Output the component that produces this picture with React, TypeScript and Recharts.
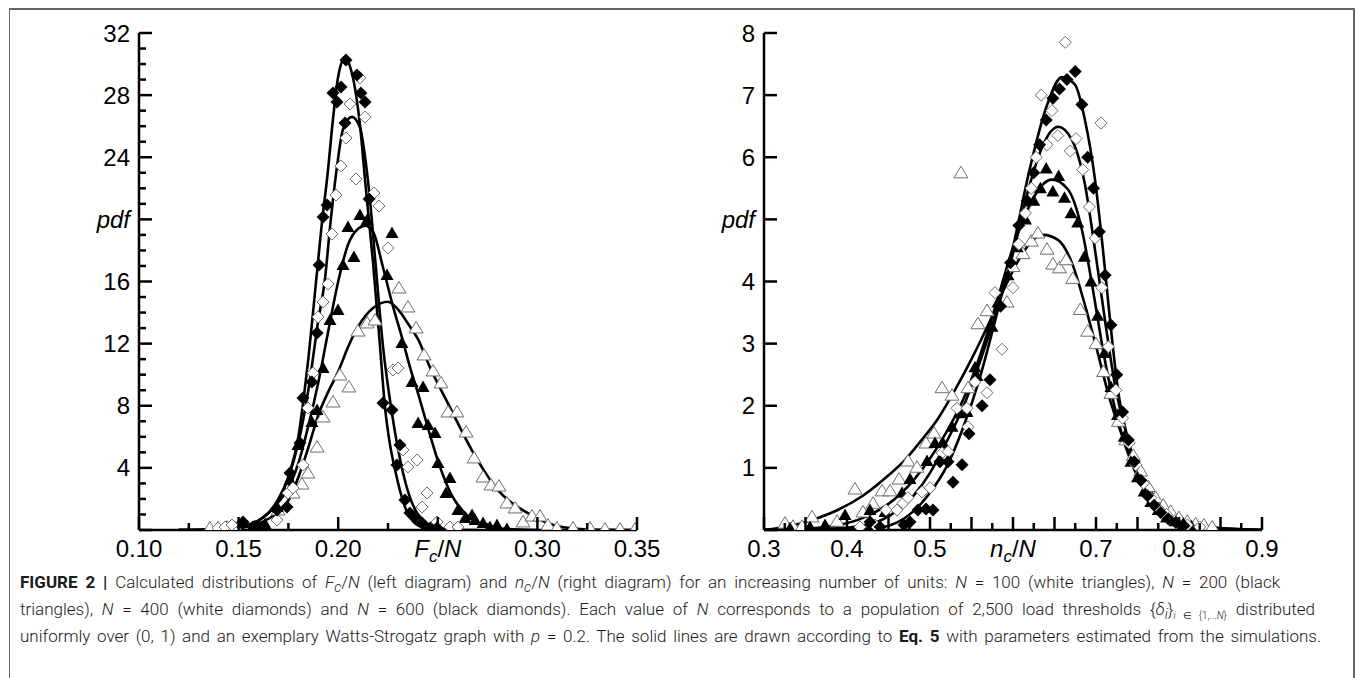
import { ComposedChart, Line, Scatter, XAxis, YAxis } from "recharts";

// ---------- left diagram: Fc/N ----------
const fcTicksX = [0.1, 0.125, 0.15, 0.175, 0.2, 0.225, 0.25, 0.275, 0.3, 0.325, 0.35];
const fcLongX = [0.1, 0.15, 0.2, 0.25, 0.3, 0.35];
const fcLabelAtX = [0.1, 0.15, 0.2, 0.25, 0.3, 0.35];
const fcLabelsX = ["0.10", "0.15", "0.20", "Fc/N", "0.30", "0.35"];
const fcTicksY = [0, 1, 2, 3, 4, 5, 6, 7, 8, 9, 10, 11, 12, 13, 14, 15, 16, 17, 18, 19, 20, 21, 22, 23, 24, 25, 26, 27, 28, 29, 30, 31, 32];
const fcLongY = [0, 4, 8, 12, 16, 20, 24, 28, 32];
const fcLabelAtY = [4, 8, 12, 16, 20, 24, 28, 32];
const fcLabelsY = ["4", "8", "12", "16", "pdf", "24", "28", "32"];

// fitted curves (Eq. 5)
const fcCurve100: [number, number][] = [
  [0.12, 0], [0.14, 0.03], [0.15, 0.12], [0.16, 0.4], [0.17, 1.2], [0.175, 1.9], [0.18, 3.4], [0.185, 5.3],
  [0.19, 7.4], [0.195, 8.9], [0.2, 10.2], [0.205, 11.8], [0.21, 13.1], [0.2175, 14.3], [0.225, 14.7],
  [0.23, 14.2], [0.235, 13.3], [0.24, 12.3], [0.246, 10.5], [0.2561, 7.9], [0.2677, 5.0], [0.28, 2.6],
  [0.295, 1.1], [0.308, 0.32], [0.32, 0.08], [0.335, 0.01], [0.35, 0],
];
const fcCurve200: [number, number][] = [
  [0.12, 0], [0.14, 0.05], [0.15, 0.2], [0.16, 0.6], [0.165, 1.1], [0.17, 1.8], [0.175, 2.7], [0.18, 4.3],
  [0.185, 6.7], [0.19, 9.5], [0.195, 12.8], [0.2, 16.0], [0.205, 18.4], [0.21, 19.4], [0.2135, 19.6],
  [0.2175, 19.2], [0.2225, 16.9], [0.2275, 14.4], [0.232, 12.4], [0.236, 10.5], [0.241, 8.4], [0.245, 6.6],
  [0.251, 4.1], [0.2576, 2.1], [0.2646, 0.97], [0.2727, 0.32], [0.285, 0.06], [0.3, 0],
];
const fcCurve400: [number, number][] = [
  [0.12, 0], [0.14, 0.03], [0.15, 0.1], [0.155, 0.3], [0.16, 0.6], [0.165, 1.1], [0.17, 2.0], [0.175, 3.4],
  [0.18, 5.6], [0.185, 9.0], [0.19, 13.5], [0.1934, 16.2], [0.1959, 19.5], [0.1994, 23.4], [0.2024, 25.8],
  [0.2069, 26.6], [0.211, 25.9], [0.2135, 24.0], [0.216, 21.2], [0.2185, 17.5], [0.2225, 11.8], [0.227, 7.5],
  [0.2325, 3.7], [0.2396, 1.1], [0.2496, 0.13], [0.26, 0.02], [0.27, 0],
];
const fcCurve600: [number, number][] = [
  [0.12, 0], [0.14, 0.03], [0.15, 0.1], [0.155, 0.3], [0.16, 0.6], [0.165, 1.1], [0.17, 1.9], [0.175, 3.4],
  [0.18, 6.0], [0.1825, 8.3], [0.185, 11.0], [0.1885, 15.5], [0.192, 20.0], [0.1945, 22.7], [0.1975, 26.6],
  [0.2, 29.2], [0.2034, 30.4], [0.2065, 29.6], [0.209, 28.0], [0.211, 26.0], [0.2135, 22.5], [0.2175, 17.2],
  [0.221, 11.8], [0.2235, 7.9], [0.226, 5.5], [0.2285, 3.9], [0.2335, 1.5], [0.238, 0.5], [0.2446, 0.1],
  [0.255, 0], [0.26, 0],
];

// simulated points
const fcPts100: [number, number][] = [
  [0.1356, 0.13], [0.1397, 0.13], [0.1442, 0.19], [0.1487, 0.13], [0.1698, 1.29], [0.1773, 2.38], [0.1818, 2.96],
  [0.1848, 3.67], [0.1894, 5.34], [0.1924, 7.28], [0.1974, 8.24], [0.2009, 9.98], [0.2054, 9.21], [0.2099, 12.81],
  [0.2145, 13.33], [0.2185, 13.52], [0.2305, 15.58], [0.235, 14.36], [0.2391, 13.01], [0.2431, 11.27],
  [0.2476, 10.24], [0.2516, 9.47], [0.2551, 7.6], [0.2596, 7.6], [0.2642, 6.31], [0.2682, 4.64], [0.2727, 3.41],
  [0.2767, 2.9], [0.2807, 2.83], [0.2847, 1.74], [0.2888, 1.42], [0.2928, 0.52], [0.2973, 0.9], [0.3013, 0.9],
  [0.3053, 0.32], [0.3098, 0.13], [0.3179, 0.13], [0.3264, 0.13], [0.3339, 0.06], [0.3415, 0.06], [0.349, 0.06],
];
const fcPts200: [number, number][] = [
  [0.1522, 0.45], [0.1582, 0.26], [0.1633, 0.39], [0.1693, 1.48], [0.1758, 3.22], [0.1798, 5.47], [0.1868, 6.95],
  [0.1894, 7.73], [0.1924, 10.43], [0.1959, 13.52], [0.1999, 14.17], [0.2024, 17.06], [0.2049, 19.51],
  [0.2079, 17.58], [0.2109, 20.28], [0.2145, 19.96], [0.2245, 16.42], [0.227, 19.12], [0.232, 12.04],
  [0.2371, 9.53], [0.2401, 6.89], [0.2426, 9.21], [0.2451, 6.76], [0.2486, 6.25], [0.2501, 4.31], [0.2541, 2.38],
  [0.2561, 3.35], [0.2601, 1.29], [0.2637, 0.77], [0.2672, 0.97], [0.2687, 0.64], [0.2727, 0.45], [0.2762, 0.19],
  [0.2797, 0.32], [0.2847, 0.06],
];
const fcPts400: [number, number][] = [
  [0.1397, 0.13], [0.1432, 0.19], [0.1467, 0.32], [0.1693, 0.64], [0.1748, 2.38], [0.1773, 2.7], [0.1823, 4.19],
  [0.1848, 7.86], [0.1873, 10.11], [0.1899, 13.72], [0.1924, 14.68], [0.1949, 15.84], [0.1969, 19.06],
  [0.1989, 21.57], [0.2014, 23.44], [0.2039, 25.24], [0.2059, 27.43], [0.2089, 22.6], [0.2109, 29.11],
  [0.2135, 26.59], [0.218, 21.7], [0.2205, 20.86], [0.225, 18.16], [0.2275, 10.3], [0.23, 10.43], [0.2325, 5.15],
  [0.235, 4.06], [0.2396, 4.51], [0.2421, 1.48], [0.2446, 2.38], [0.2496, 0.52], [0.2561, 0.19], [0.2601, 0.19],
];
const fcPts600: [number, number][] = [
  [0.1522, 0.52], [0.1572, 0.19], [0.1617, 0.13], [0.1693, 1.29], [0.1743, 1.48], [0.1758, 3.67], [0.1808, 5.6],
  [0.1823, 8.5], [0.1868, 9.53], [0.1894, 12.69], [0.1904, 17.06], [0.1924, 20.15], [0.1944, 20.93],
  [0.1974, 28.14], [0.1994, 27.56], [0.2014, 28.53], [0.2034, 26.21], [0.2039, 30.26], [0.2094, 29.3],
  [0.2114, 28.14], [0.2135, 27.56], [0.2155, 21.31], [0.2225, 8.18], [0.227, 7.73], [0.2295, 4.19], [0.231, 5.47],
  [0.2335, 1.93], [0.236, 1.09], [0.2386, 0.84], [0.2421, 0.45], [0.2461, 0.13], [0.2496, 0.13],
];

// ---------- right diagram: nc/N ----------
const ncTicksX = [0.3, 0.325, 0.35, 0.375, 0.4, 0.425, 0.45, 0.475, 0.5, 0.525, 0.55, 0.575, 0.6, 0.625, 0.65, 0.675, 0.7, 0.725, 0.75, 0.775, 0.8, 0.825, 0.85, 0.875, 0.9];
const ncLongX = [0.3, 0.35, 0.4, 0.45, 0.5, 0.55, 0.6, 0.65, 0.7, 0.75, 0.8, 0.85, 0.9];
const ncLabelAtX = [0.3, 0.4, 0.5, 0.6, 0.7, 0.8, 0.9];
const ncLabelsX = ["0.3", "0.4", "0.5", "nc/N", "0.7", "0.8", "0.9"];
const ncTicksY = [0, 1, 2, 3, 4, 5, 6, 7, 8];
const ncLabelAtY = [1, 2, 3, 4, 5, 6, 7, 8];
const ncLabelsY = ["1", "2", "3", "4", "pdf", "6", "7", "8"];

const ncCurve100: [number, number][] = [
  [0.3, 0], [0.33, 0.06], [0.36, 0.17], [0.39, 0.33], [0.42, 0.56], [0.45, 0.88], [0.47, 1.13], [0.49, 1.45],
  [0.51, 1.8], [0.53, 2.25], [0.55, 2.75], [0.57, 3.3], [0.59, 3.9], [0.61, 4.42], [0.625, 4.68], [0.6361, 4.75],
  [0.6542, 4.67], [0.671, 4.3], [0.6867, 3.62], [0.7012, 2.9], [0.7169, 2.09], [0.7349, 1.4], [0.753, 0.89],
  [0.7771, 0.43], [0.8072, 0.16], [0.8494, 0.03], [0.9, 0],
];
const ncCurve200: [number, number][] = [
  [0.3, 0], [0.35, 0.02], [0.39, 0.08], [0.42, 0.2], [0.45, 0.42], [0.48, 0.8], [0.5, 1.15], [0.52, 1.58],
  [0.54, 2.1], [0.56, 2.8], [0.58, 3.65], [0.6, 4.55], [0.62, 5.22], [0.635, 5.55], [0.647, 5.64], [0.6663, 5.48],
  [0.6831, 4.83], [0.6964, 3.86], [0.7084, 2.9], [0.7205, 2.09], [0.7349, 1.37], [0.753, 0.77], [0.7771, 0.32],
  [0.8072, 0.11], [0.8494, 0.02], [0.9, 0],
];
const ncCurve400: [number, number][] = [
  [0.3, 0], [0.38, 0.02], [0.42, 0.07], [0.45, 0.22], [0.48, 0.55], [0.5, 0.92], [0.52, 1.42], [0.54, 1.98],
  [0.56, 2.7], [0.58, 3.52], [0.6, 4.45], [0.62, 5.55], [0.638, 6.25], [0.6542, 6.49], [0.671, 6.28],
  [0.6867, 5.56], [0.6988, 4.51], [0.7108, 3.38], [0.7229, 2.33], [0.7386, 1.45], [0.7554, 0.77], [0.7771, 0.35],
  [0.8072, 0.13], [0.8434, 0.03], [0.9, 0],
];
const ncCurve600: [number, number][] = [
  [0.3, 0], [0.4, 0.01], [0.44, 0.04], [0.46, 0.12], [0.48, 0.3], [0.5, 0.6], [0.52, 1.02], [0.54, 1.65],
  [0.56, 2.45], [0.58, 3.45], [0.6, 4.55], [0.62, 5.8], [0.64, 6.8], [0.659, 7.29], [0.6747, 7.17], [0.6867, 6.6],
  [0.6988, 5.64], [0.7084, 4.51], [0.7169, 3.38], [0.7265, 2.25], [0.7386, 1.45], [0.753, 0.8], [0.7711, 0.4],
  [0.7952, 0.16], [0.8253, 0.05], [0.87, 0], [0.9, 0],
];

const ncPts100: [number, number][] = [
  [0.3253, 0.11], [0.3349, 0.06], [0.3458, 0.06], [0.3578, 0.21], [0.388, 0.14], [0.4096, 0.66], [0.4193, 0.29],
  [0.4313, 0.43], [0.4422, 0.63], [0.4518, 0.63], [0.4627, 0.82], [0.4735, 1.11], [0.4843, 1.01], [0.4952, 1.4],
  [0.5048, 1.56], [0.5145, 2.29], [0.5265, 2.17], [0.5373, 5.75], [0.5458, 2.29], [0.5578, 3.32], [0.5687, 3.53],
  [0.5928, 3.67], [0.6, 4.24], [0.612, 4.45], [0.622, 4.65], [0.63, 4.78], [0.641, 4.52], [0.648, 4.28],
  [0.656, 4.22], [0.664, 4.35], [0.672, 4.05], [0.681, 3.55], [0.69, 3.2], [0.7, 3.0], [0.709, 2.55],
  [0.718, 2.2], [0.727, 1.75], [0.736, 1.45], [0.745, 1.2], [0.754, 0.95], [0.763, 0.7], [0.772, 0.52],
  [0.781, 0.4], [0.79, 0.3], [0.8, 0.2], [0.81, 0.14], [0.82, 0.1], [0.83, 0.08], [0.84, 0.05],
];
const ncPts200: [number, number][] = [
  [0.3313, 0.03], [0.3554, 0.05], [0.3735, 0.08], [0.3976, 0.24], [0.4277, 0.32], [0.4458, 0.29], [0.4663, 0.6],
  [0.4759, 0.82], [0.4964, 1.11], [0.506, 1.4], [0.5157, 1.4], [0.5265, 1.66], [0.5361, 1.88], [0.5446, 1.9],
  [0.5542, 2.62], [0.5566, 2.48], [0.5747, 3.27], [0.5819, 3.66], [0.594, 4.1], [0.605, 4.55], [0.615, 5.0],
  [0.625, 5.3], [0.633, 5.5], [0.64, 5.82], [0.648, 5.45], [0.655, 5.7], [0.662, 5.35], [0.67, 5.1],
  [0.678, 4.95], [0.686, 4.4], [0.694, 4.0], [0.702, 3.45], [0.71, 2.85], [0.718, 2.3], [0.726, 1.85],
  [0.734, 1.5], [0.742, 1.1], [0.75, 0.85], [0.758, 0.62], [0.766, 0.45], [0.775, 0.32], [0.785, 0.2],
  [0.795, 0.14], [0.805, 0.1], [0.815, 0.06],
];
const ncPts400: [number, number][] = [
  [0.4157, 0.05], [0.4337, 0.08], [0.447, 0.32], [0.4602, 0.32], [0.4675, 0.43], [0.4735, 0.52], [0.4904, 0.61],
  [0.5, 0.68], [0.5145, 1.24], [0.5217, 1.26], [0.5325, 1.96], [0.5446, 1.96], [0.5458, 1.66], [0.5542, 2.38],
  [0.5687, 2.21], [0.5783, 3.82], [0.5867, 2.91], [0.6, 3.9], [0.607, 4.6], [0.615, 5.1], [0.622, 5.5],
  [0.628, 6.0], [0.634, 7.0], [0.641, 6.2], [0.647, 6.75], [0.654, 6.35], [0.663, 7.85], [0.669, 6.1],
  [0.676, 6.3], [0.684, 5.8], [0.692, 5.2], [0.699, 4.7], [0.706, 6.55], [0.707, 3.9], [0.715, 2.95],
  [0.724, 2.25], [0.732, 1.8], [0.74, 1.4], [0.748, 1.05], [0.757, 0.75], [0.766, 0.52], [0.775, 0.35],
  [0.785, 0.25], [0.795, 0.15], [0.81, 0.08], [0.825, 0.05],
];
const ncPts600: [number, number][] = [
  [0.4277, 0.13], [0.4398, 0.05], [0.4687, 0.08], [0.4759, 0.13], [0.4855, 0.32], [0.4952, 0.34], [0.5036, 0.32],
  [0.512, 1.1], [0.5217, 1.1], [0.5277, 0.77], [0.5386, 1.05], [0.547, 1.55], [0.5627, 2.0], [0.5723, 2.42],
  [0.585, 3.6], [0.597, 4.3], [0.607, 4.9], [0.617, 5.3], [0.625, 5.75], [0.632, 6.2], [0.64, 6.6],
  [0.648, 6.95], [0.656, 7.1], [0.665, 7.25], [0.675, 7.38], [0.683, 6.85], [0.69, 6.0], [0.697, 5.5],
  [0.704, 4.8], [0.711, 4.1], [0.718, 3.3], [0.725, 2.5], [0.732, 1.9], [0.739, 1.45], [0.746, 1.1],
  [0.754, 0.8], [0.762, 0.55], [0.77, 0.4], [0.778, 0.28], [0.787, 0.18], [0.796, 0.12], [0.806, 0.07],
];

const FONT = '"Liberation Sans", Arial, Helvetica, sans-serif';
const toXY = (arr: [number, number][]) => arr.map(([x, y]) => ({ x, y }));
const near = (a: number, b: number) => Math.abs(a - b) < 1e-6;

function axisLabel(label: string, x: number, y: number, side: string) {
  const common = { fontSize: 24, fontFamily: FONT, fill: "#000" };
  if (side === "bottom") {
    if (label === "Fc/N" || label === "nc/N") {
      return (
        <text x={x} y={y + 27} textAnchor="middle" {...common}>
          <tspan fontStyle="italic">{label[0]}</tspan>
          <tspan fontStyle="italic" fontSize={17} dy={5}>c</tspan>
          <tspan dy={-5}>/</tspan>
          <tspan fontStyle="italic">N</tspan>
        </text>
      );
    }
    return <text x={x} y={y + 27} textAnchor="middle" {...common}>{label}</text>;
  }
  return (
    <text x={x - 9} y={y + 8.5} textAnchor="end" fontStyle={label === "pdf" ? "italic" : "normal"} {...common}>
      {label}
    </text>
  );
}

function makeTick(side: string, longAt: number[] | null, labelAt: number[], labels: string[]) {
  return (props: any) => {
    const { x, y, payload } = props;
    const v = payload.value;
    const len = !longAt || longAt.some((m) => near(m, v)) ? 13 : 7;
    let x2 = x, y2 = y;
    if (side === "bottom") y2 = y - len;
    if (side === "top") y2 = y + len;
    if (side === "left") x2 = x + len;
    if (side === "right") x2 = x - len;
    const li = labelAt.findIndex((m) => near(m, v));
    return (
      <g>
        <line x1={x} y1={y} x2={x2} y2={y2} stroke="#000" strokeWidth={2.5} />
        {li >= 0 ? axisLabel(labels[li], x, y, side) : null}
      </g>
    );
  };
}

const whiteTri = (p: any) => (
  <polygon points={`${p.cx},${p.cy - 6.5} ${p.cx + 7},${p.cy + 5} ${p.cx - 7},${p.cy + 5}`} fill="#fff" stroke="#6e6e6e" strokeWidth={1} />
);
const blackTri = (p: any) => (
  <polygon points={`${p.cx},${p.cy - 6.5} ${p.cx + 6.5},${p.cy + 5} ${p.cx - 6.5},${p.cy + 5}`} fill="#000" />
);
const whiteDia = (p: any) => (
  <polygon points={`${p.cx},${p.cy - 6} ${p.cx + 6},${p.cy} ${p.cx},${p.cy + 6} ${p.cx - 6},${p.cy}`} fill="#fff" stroke="#6e6e6e" strokeWidth={1} />
);
const blackDia = (p: any) => (
  <polygon points={`${p.cx},${p.cy - 6.5} ${p.cx + 6.5},${p.cy} ${p.cx},${p.cy + 6.5} ${p.cx - 6.5},${p.cy}`} fill="#000" />
);

type PanelProps = {
  left: number;
  width: number;
  margin: { top: number; right: number; bottom: number; left: number };
  xDomain: [number, number];
  yDomain: [number, number];
  ticksX: number[];
  longX: number[];
  labelAtX: number[];
  labelsX: string[];
  ticksY: number[];
  longY: number[] | null;
  labelAtY: number[];
  labelsY: string[];
  curves: [number, number][][];
  pts: [number, number][][];
};

function Panel(p: PanelProps) {
  const axisLine = { stroke: "#000", strokeWidth: 2.5 };
  const shapes = [whiteTri, blackTri, whiteDia, blackDia];
  return (
    <div style={{ position: "absolute", left: p.left, top: 0 }}>
      <ComposedChart width={p.width} height={600} margin={p.margin}>
        <XAxis xAxisId="b" dataKey="x" type="number" orientation="bottom" domain={p.xDomain} ticks={p.ticksX}
          interval={0} height={30} tickSize={0} tickMargin={0} axisLine={axisLine} tickLine={false}
          tick={makeTick("bottom", p.longX, p.labelAtX, p.labelsX)} allowDataOverflow />
        <XAxis xAxisId="t" dataKey="x" type="number" orientation="top" domain={p.xDomain} ticks={p.ticksX}
          interval={0} height={0} tickSize={0} tickMargin={0} axisLine={axisLine} tickLine={false}
          tick={makeTick("top", p.longX, [], [])} allowDataOverflow />
        <YAxis yAxisId="l" dataKey="y" type="number" orientation="left" domain={p.yDomain} ticks={p.ticksY}
          interval={0} width={60} tickSize={0} tickMargin={0} axisLine={axisLine} tickLine={false}
          tick={makeTick("left", p.longY, p.labelAtY, p.labelsY)} allowDataOverflow />
        <YAxis yAxisId="r" dataKey="y" type="number" orientation="right" domain={p.yDomain} ticks={p.ticksY}
          interval={0} width={0} tickSize={0} tickMargin={0} axisLine={axisLine} tickLine={false}
          tick={makeTick("right", p.longY, [], [])} allowDataOverflow />
        {p.pts.map((s, i) => (
          <Scatter key={`s${i}`} xAxisId="b" yAxisId="l" data={toXY(s)} dataKey="y" shape={shapes[i]} isAnimationActive={false} />
        ))}
        {p.curves.map((c, i) => (
          <Line key={`c${i}`} xAxisId="b" yAxisId="l" data={toXY(c)} dataKey="y" type="monotone" stroke="#000"
            strokeWidth={2.6} dot={false} activeDot={false} isAnimationActive={false} />
        ))}
      </ComposedChart>
    </div>
  );
}

const capStyle = {
  position: "absolute" as const,
  left: 20,
  fontFamily: 'Roboto, "Liberation Sans", Arial, sans-serif',
  fontWeight: 300,
  fontSize: 17,
  lineHeight: "20px",
  color: "#1a1a1a",
  textAlign: "justify" as const,
  textAlignLast: "justify" as const,
  whiteSpace: "nowrap" as const,
};

export default function App() {
  return (
    <div style={{ position: "absolute", left: 0, top: 0, width: 1355, height: 678, background: "#fff", overflow: "hidden" }}>
      <div style={{ position: "absolute", left: 9, top: 8, width: 1343, height: 672, borderTop: "2px solid #666", borderLeft: "1.5px solid #666", borderRight: "2px solid #666" }} />
      <Panel left={0} width={680} margin={{ top: 33, right: 43, bottom: 40, left: 79 }}
        xDomain={[0.1, 0.35]} yDomain={[0, 32]} ticksX={fcTicksX} longX={fcLongX} labelAtX={fcLabelAtX} labelsX={fcLabelsX}
        ticksY={fcTicksY} longY={fcLongY} labelAtY={fcLabelAtY} labelsY={fcLabelsY}
        curves={[fcCurve100, fcCurve200, fcCurve400, fcCurve600]} pts={[fcPts100, fcPts200, fcPts400, fcPts600]} />
      <Panel left={680} width={675} margin={{ top: 33, right: 93, bottom: 40, left: 24 }}
        xDomain={[0.3, 0.9]} yDomain={[0, 8]} ticksX={ncTicksX} longX={ncLongX} labelAtX={ncLabelAtX} labelsX={ncLabelsX}
        ticksY={ncTicksY} longY={null} labelAtY={ncLabelAtY} labelsY={ncLabelsY}
        curves={[ncCurve100, ncCurve200, ncCurve400, ncCurve600]} pts={[ncPts100, ncPts200, ncPts400, ncPts600]} />
      <div style={{ ...capStyle, top: 572, width: 1260 }}>
        <b style={{ fontWeight: 700 }}>FIGURE 2 |</b> Calculated distributions of <i>F</i><sub><i>c</i></sub>/<i>N</i> (left diagram) and <i>n</i><sub><i>c</i></sub>/<i>N</i> (right diagram) for an increasing number of units: <i>N</i> = 100 (white triangles), <i>N</i> = 200 (black
      </div>
      <div style={{ ...capStyle, top: 599, width: 1295 }}>
        triangles), <i>N</i> = 400 (white diamonds) and <i>N</i> = 600 (black diamonds). Each value of <i>N</i> corresponds to a population of 2,500 load thresholds {"{"}<i>δ</i><sub><i>i</i></sub>{"}"}<sub style={{ fontSize: 10 }}><i>i</i> ∈ {"{"}1,...<i>N</i>{"}"}</sub> distributed
      </div>
      <div style={{ ...capStyle, top: 626, width: 1301 }}>
        uniformly over (0, 1) and an exemplary Watts-Strogatz graph with <i>p</i> = 0.2. The solid lines are drawn according to <b style={{ fontWeight: 700 }}>Eq. 5</b> with parameters estimated from the simulations.
      </div>
    </div>
  );
}
